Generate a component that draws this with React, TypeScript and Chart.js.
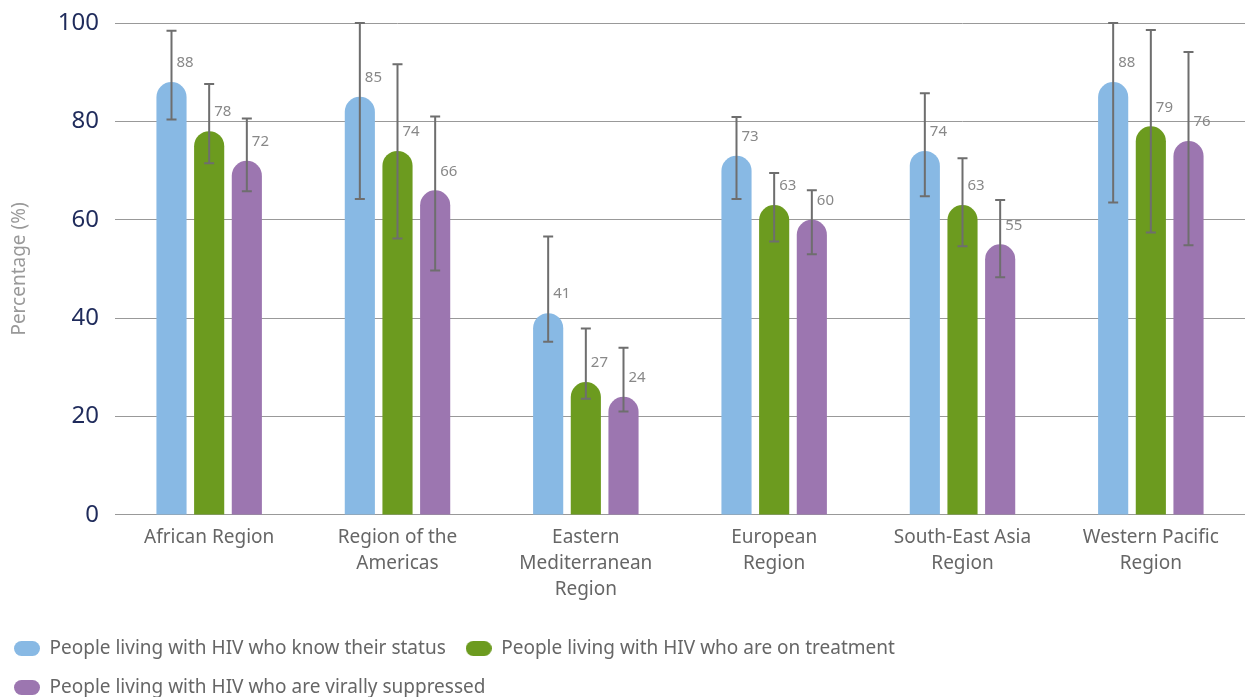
import React, { useEffect, useRef } from "react";
import { Chart, registerables } from "chart.js";

Chart.register(...registerables);

const categories: (string | string[])[] = [
  "African Region",
  ["Region of the", "Americas"],
  ["Eastern", "Mediterranean", "Region"],
  ["European", "Region"],
  ["South-East Asia", "Region"],
  ["Western Pacific", "Region"],
];

const seriesNames = [
  "People living with HIV who know their status",
  "People living with HIV who are on treatment",
  "People living with HIV who are virally suppressed",
];

const knowStatus = [88, 85, 41, 73, 74, 88];
const knowStatusLow = [80.4, 64.2, 35.2, 64.2, 64.8, 63.5];
const knowStatusHigh = [98.4, 100, 56.6, 80.9, 85.7, 100];

const onTreatment = [78, 74, 27, 63, 63, 79];
const onTreatmentLow = [71.5, 56.2, 23.6, 55.6, 54.6, 57.4];
const onTreatmentHigh = [87.6, 91.6, 37.9, 69.5, 72.5, 98.6];

const suppressed = [72, 66, 24, 60, 55, 76];
const suppressedLow = [65.8, 49.7, 21, 53, 48.3, 54.8];
const suppressedHigh = [80.6, 81, 34, 66, 64, 94.1];

const yTicks = [0, 20, 40, 60, 80, 100];

const colors = ["#88b9e4", "#6c9b1f", "#9c76b0"];

const lows = [knowStatusLow, onTreatmentLow, suppressedLow];
const highs = [knowStatusHigh, onTreatmentHigh, suppressedHigh];

function pill(color: string) {
  const c = document.createElement("canvas");
  c.width = 26;
  c.height = 15;
  const ctx = c.getContext("2d")!;
  ctx.fillStyle = color;
  ctx.beginPath();
  (ctx as any).roundRect(0, 0, 26, 15, 7.5);
  ctx.fill();
  return c;
}

const errorBarPlugin = {
  id: "errorBars",
  afterDatasetsDraw(chart: any) {
    const ctx = chart.ctx;
    const y = chart.scales.y;
    chart.data.datasets.forEach((ds: any, di: number) => {
      const meta = chart.getDatasetMeta(di);
      meta.data.forEach((el: any, i: number) => {
        const x = el.x;
        const yl = y.getPixelForValue(lows[di][i]);
        const yh = y.getPixelForValue(highs[di][i]);
        ctx.save();
        ctx.strokeStyle = "#6e6e6e";
        ctx.lineWidth = 2;
        ctx.beginPath();
        ctx.moveTo(x, yl);
        ctx.lineTo(x, yh);
        ctx.moveTo(x - 5, yl);
        ctx.lineTo(x + 5, yl);
        ctx.moveTo(x - 5, yh);
        ctx.lineTo(x + 5, yh);
        ctx.stroke();
        ctx.fillStyle = "#888";
        ctx.font = "15px 'Noto Sans'";
        ctx.textAlign = "left";
        ctx.textBaseline = "middle";
        ctx.fillText(String(ds.data[i]), x + 5, el.y - 19);
        ctx.restore();
      });
    });
  },
};

export default function App() {
  const ref = useRef<HTMLCanvasElement>(null);
  useEffect(() => {
    document.body.style.margin = "0";
    const values = [knowStatus, onTreatment, suppressed];
    const chart = new Chart(ref.current!, {
      type: "bar",
      data: {
        labels: categories as any,
        datasets: seriesNames.map((name, i) => ({
          label: name,
          data: values[i],
          backgroundColor: colors[i],
          borderRadius: 15,
          borderSkipped: "start",
          barPercentage: 0.8,
          categoryPercentage: 0.6,
        })),
      },
      options: {
        animation: false,
        responsive: true,
        maintainAspectRatio: false,
        layout: { padding: { top: 23, left: -6, right: 0, bottom: -10 } },
        plugins: {
          tooltip: { enabled: false },
          legend: {
            position: "bottom",
            align: "start",
            labels: {
              usePointStyle: true,
              pointStyleWidth: 26,
              padding: 20,
              color: "#666",
              font: { family: "'Noto Sans'", size: 19 },
              generateLabels: (chart: any) =>
                Chart.defaults.plugins.legend.labels
                  .generateLabels(chart)
                  .map((it: any, i: number) => ({ ...it, pointStyle: pill(colors[i]) })),
            },
          },
        },
        scales: {
          x: {
            grid: { display: false, drawTicks: false },
            border: { color: "#999", width: 1 },
            ticks: {
              color: "#666",
              padding: 10,
              maxRotation: 0,
              autoSkip: false,
              font: { family: "'Noto Sans'", size: 19, lineHeight: 1.37 },
            },
            afterFit: (s: any) => {
              s.height += 6;
            },
          },
          y: {
            min: 0,
            max: 100,
            afterBuildTicks: (s: any) => {
              s.ticks = yTicks.map((v) => ({ value: v }));
            },
            grid: { color: "#999", lineWidth: 1, drawTicks: false },
            border: { display: false },
            ticks: {
              color: "#1f2b5b",
              padding: 16,
              font: { family: "'Noto Sans'", size: 24 },
            },
            title: {
              display: true,
              text: "Percentage (%)",
              color: "#999",
              padding: { top: 14, bottom: 4 },
              font: { family: "'Noto Sans'", size: 19 },
            },
            afterFit: (s: any) => {
              s.width = 121;
              s.paddingTop = 0;
              s.paddingBottom = 0;
            },
          },
        },
      },
      plugins: [errorBarPlugin],
    });
    return () => chart.destroy();
  }, []);
  return (
    <div style={{ position: "fixed", left: 0, top: 0, width: 1245, height: 697 }}>
      <canvas ref={ref} />
    </div>
  );
}
